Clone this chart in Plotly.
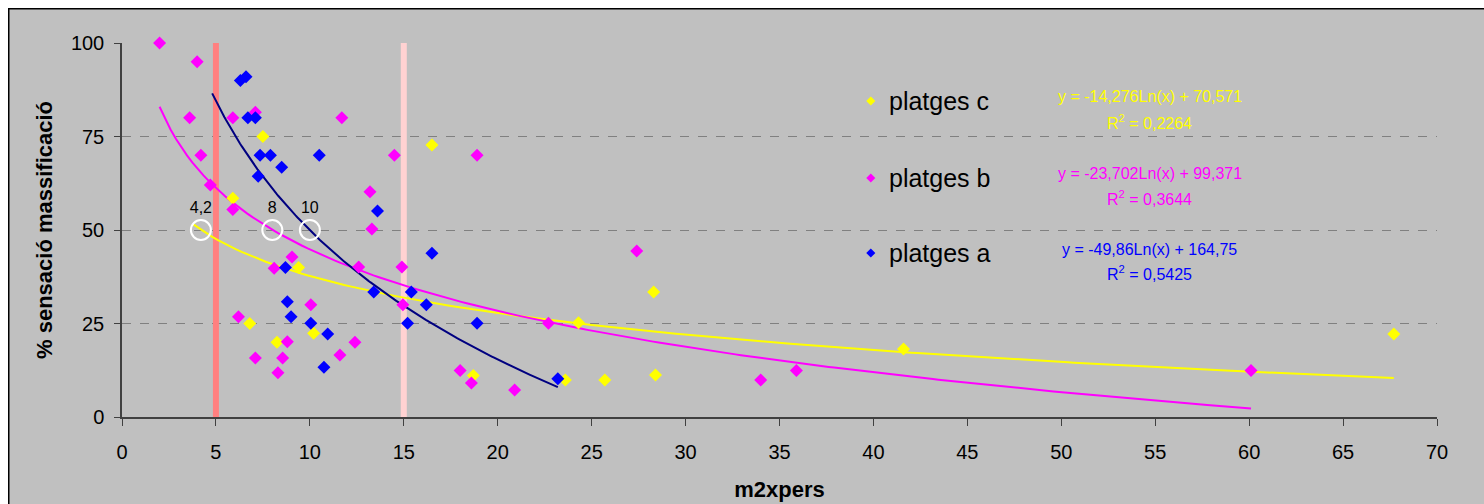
import numpy as np
import plotly.graph_objects as go

# ---------------- data ----------------
c_x = [5.9, 7.5, 9.4, 6.8, 10.2, 8.25, 16.5, 18.7, 28.3, 24.3, 23.6, 25.7, 28.4, 41.6, 67.7]
c_y = [58.5, 75, 40, 25, 22.4, 20, 72.7, 11.1, 33.4, 25.2, 9.9, 9.9, 11.2, 18.2, 22.2]

b_x = [2, 4, 3.6, 4.2, 4.7, 5.9, 5.9, 7.1, 9.05, 8.1, 10.05, 6.2, 8.8, 7.1, 8.55, 8.3,
       11.7, 14.5, 18.9, 13.2, 13.3, 12.6, 14.9, 14.95, 12.4, 11.6, 18.0, 18.6, 27.4,
       22.7, 20.9, 34.0, 35.9, 60.1]
b_y = [100, 95, 80, 70, 62, 80, 55.5, 81.5, 42.8, 39.8, 30, 26.8, 20.1, 15.8, 15.8, 11.8,
       80, 70, 70, 60.2, 50.3, 40.1, 40.1, 30, 20, 16.6, 12.4, 9.1, 44.4,
       25.1, 7.2, 9.9, 12.4, 12.4]

a_x = [6.3, 6.6, 6.7, 7.1, 7.35, 7.9, 8.5, 7.25, 10.5, 8.7, 8.8, 9.0, 10.05, 13.6, 16.5,
       13.4, 15.4, 16.2, 15.2, 18.9, 10.95, 10.75, 23.2]
a_y = [90, 91, 80, 80, 70, 70, 66.8, 64.4, 70, 40, 30.8, 26.8, 25.1, 55.1, 43.8,
       33.4, 33.4, 30, 25.1, 25.1, 22.2, 13.3, 10.2]

# log trendlines: y = slope*ln(x) + intercept, drawn over [x_start, x_end]
trend_c = [-14.276, 70.571, 3.8, 67.7]
trend_b = [-23.702, 99.371, 2.0, 60.1]
trend_a = [-49.86, 164.75, 4.8, 23.2]

eq_c = ["y = -14,276Ln(x) + 70,571", "R<sup>2</sup> = 0,2264"]
eq_b = ["y = -23,702Ln(x) + 99,371", "R<sup>2</sup> = 0,3644"]
eq_a = ["y = -49,86Ln(x) + 164,75", "R<sup>2</sup> = 0,5425"]

series_names = ["platges c", "platges b", "platges a"]

ref_lines_x = [5, 15]
ref_lines_y = [-1.4, 100.8]

circle_x = [4.2, 8, 10]
circle_y = [50, 50, 50]
circle_labels = ["4,2", "8", "10"]

x_ticks = list(range(0, 75, 5))
y_ticks = [0, 25, 50, 75, 100]

# ---------------- styles ----------------
YEL = "#FFFF00"
MAG = "#FF00FF"
BLU = "#0000FF"
NAVY = "#000080"
GRAY = "#C0C0C0"
FONT = "Liberation Sans, Arial, sans-serif"

W, H = 1476, 496
ML, MR, MT, MB = 114, 47, 35, 87
PW, PH = W - ML - MR, H - MT - MB

fig = go.Figure()

# reference vertical lines
for xv, col in zip(ref_lines_x, ["#FF8080", "#FFD2D2"]):
    fig.add_trace(go.Scatter(x=[xv, xv], y=ref_lines_y, mode="lines",
                             line=dict(color=col, width=6), cliponaxis=False,
                             showlegend=False, hoverinfo="skip"))

# trendlines
for tr, col in [(trend_c, YEL), (trend_b, MAG), (trend_a, NAVY)]:
    xs = np.linspace(tr[2], tr[3], 200)
    ys = tr[0] * np.log(xs) + tr[1]
    fig.add_trace(go.Scatter(x=xs, y=ys, mode="lines", line=dict(color=col, width=2),
                             showlegend=False, hoverinfo="skip"))

# scatter points
for xs, ys, col in [(c_x, c_y, YEL), (b_x, b_y, MAG), (a_x, a_y, BLU)]:
    fig.add_trace(go.Scatter(x=xs, y=ys, mode="markers", cliponaxis=False,
                             marker=dict(symbol="diamond", size=10, color=col,
                                         line=dict(width=0)),
                             showlegend=False))

# circles with labels
fig.add_trace(go.Scatter(x=circle_x, y=circle_y, mode="markers+text",
                         text=circle_labels, textposition="top center",
                         textfont=dict(family=FONT, size=16, color="black"),
                         marker=dict(symbol="circle-open", size=20,
                                     line=dict(color="white", width=2), color="white"),
                         showlegend=False))

# custom legend (inside plot)
leg_x_marker = 39.86
leg_x_text = 40.7
leg_y = [84.5, 63.9, 43.85]
for name, col, yy in zip(series_names, [YEL, MAG, BLU], leg_y):
    fig.add_trace(go.Scatter(x=[leg_x_marker], y=[yy], mode="markers",
                             marker=dict(symbol="diamond", size=7, color=col),
                             showlegend=False, hoverinfo="skip"))
    fig.add_annotation(x=leg_x_text, y=yy, text=name, showarrow=False,
                       xanchor="left", yanchor="middle",
                       font=dict(family=FONT, size=25, color="black"))

# equations
eq_x = 54.7
for eq, col, (y1, y2) in [(eq_c, YEL, (85.6, 78.9)), (eq_b, MAG, (65.0, 58.6)),
                          (eq_a, BLU, (44.7, 38.5))]:
    fig.add_annotation(x=eq_x, y=y1, text=eq[0], showarrow=False, xanchor="center",
                       yanchor="middle", font=dict(family=FONT, size=16, color=col))
    fig.add_annotation(x=eq_x, y=y2, text=eq[1], showarrow=False, xanchor="center",
                       yanchor="middle", font=dict(family=FONT, size=16, color=col))

# legend box covering gridlines
fig.add_shape(type="rect", xref="x", yref="y", x0=38.9, x1=46.7, y0=36, y1=93,
              fillcolor=GRAY, line=dict(width=0), layer="below")

# chart-area border (top and left edges visible)
fig.add_shape(type="rect", xref="paper", yref="paper",
              x0=(0.5 - ML) / PW, x1=(W + 20 - ML) / PW,
              y0=-(MB + 20) / PH, y1=(H - 0.5 - MB) / PH,
              fillcolor=GRAY, line=dict(color="black", width=2), layer="below")

fig.update_layout(
    width=W, height=H,
    margin=dict(l=ML, r=MR, t=MT, b=MB, autoexpand=False),
    paper_bgcolor=GRAY, plot_bgcolor=GRAY,
    font=dict(family=FONT, size=20, color="black"),
    showlegend=False,
    xaxis=dict(range=[0, 70], tickvals=x_ticks, showgrid=False, zeroline=False,
               automargin=False,
               showline=True, linecolor="#404040", linewidth=1.5,
               ticks="outside", ticklen=7, tickcolor="#404040",
               tickfont=dict(size=20), ticklabelstandoff=9,
               title=dict(text="<b>m2xpers</b>", font=dict(size=22), standoff=20)),
    yaxis=dict(range=[0, 100], tickvals=y_ticks, showgrid=True, gridcolor="#808080",
               griddash="dash", gridwidth=1, zeroline=False,
               automargin=False,
               showline=True, linecolor="#404040", linewidth=1.5,
               ticks="outside", ticklen=6, tickcolor="#404040",
               tickfont=dict(size=20), ticklabelstandoff=6,
               title=dict(text="<b>% sensació massificació</b>", font=dict(size=22),
                          standoff=12)),
)

fig.write_html(
    "out.html",
    post_script="document.documentElement.style.overflow='hidden';"
                "document.body.style.overflow='hidden';"
                "document.body.style.margin='8px 0 0 8px';",
)
